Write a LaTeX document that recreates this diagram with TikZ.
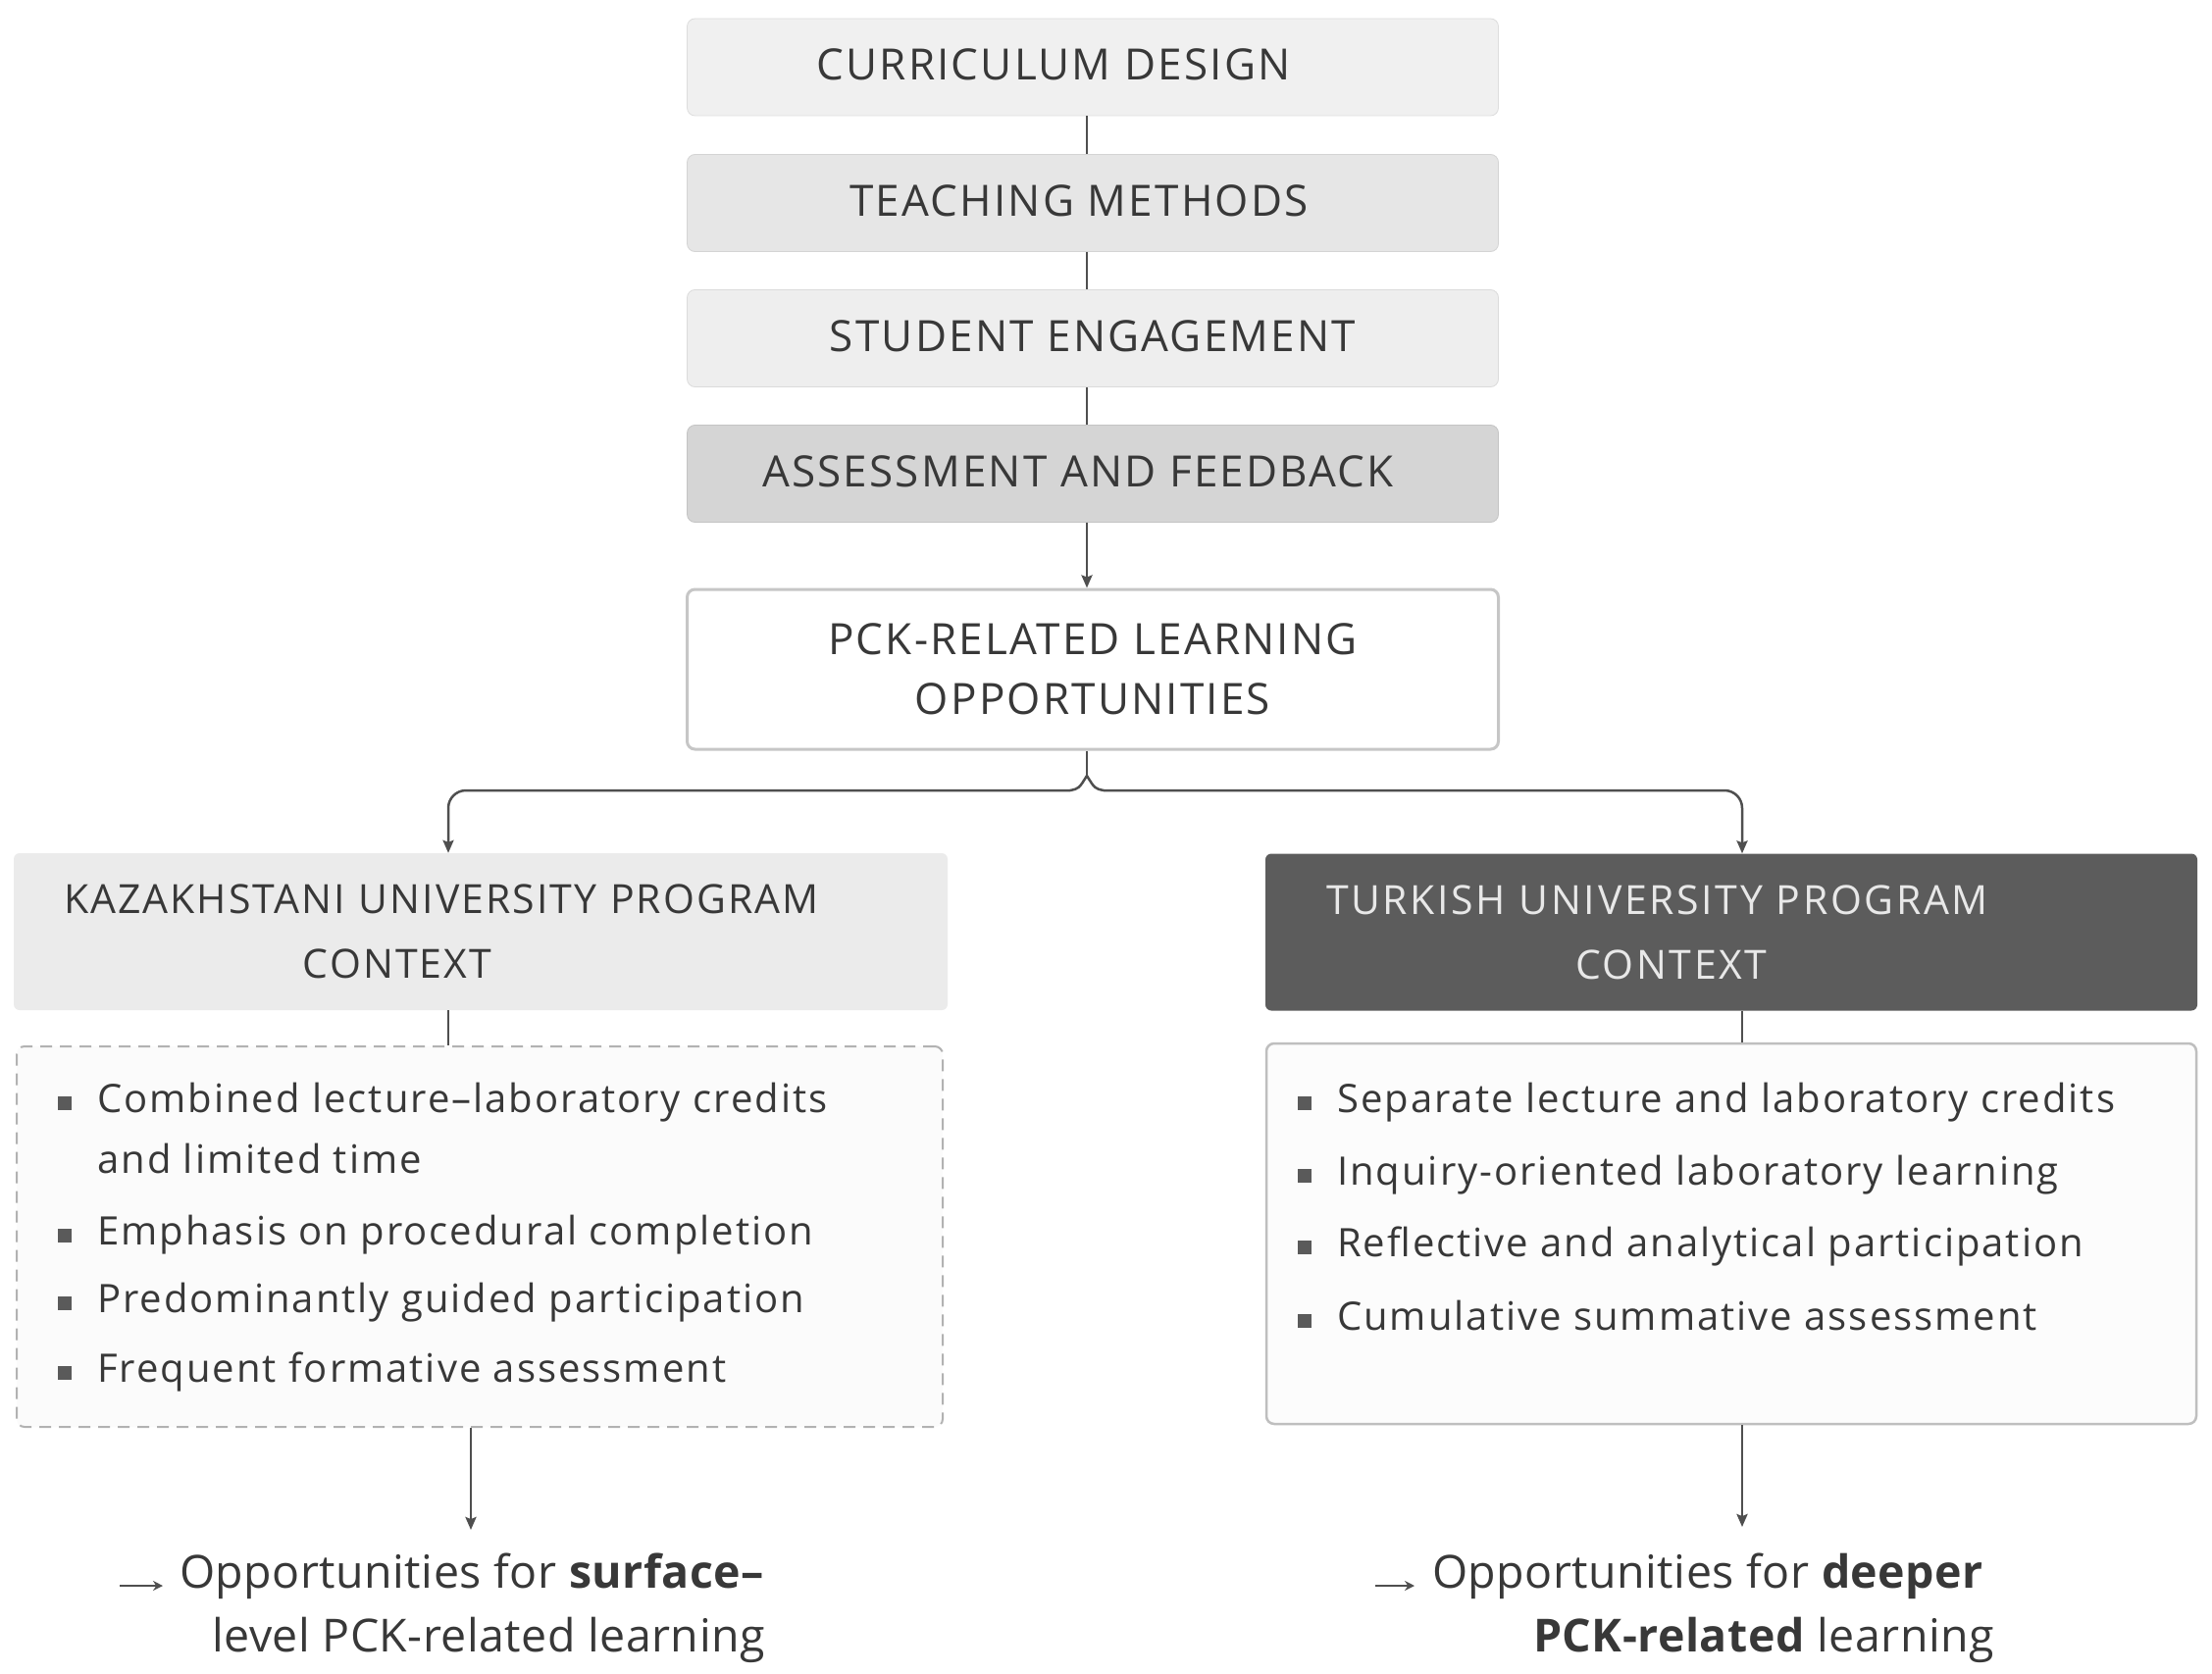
\documentclass[tikz,border=0pt]{standalone}
\usepackage{fontspec}
\setmainfont{Open Sans}
\newfontfamily\capsf[LetterSpace=5]{Open Sans}
\newfontfamily\listf[LetterSpace=5]{Open Sans}
\newfontfamily\botf[LetterSpace=1]{Open Sans}
\usetikzlibrary{arrows.meta,calc}
\definecolor{txt}{HTML}{383838}
\definecolor{conc}{HTML}{4F4F4F}
\definecolor{bulc}{HTML}{5A5A5A}
\definecolor{boxa}{HTML}{F0F0F0}
\definecolor{boxb}{HTML}{E6E6E6}
\definecolor{boxc}{HTML}{EEEEEE}
\definecolor{boxd}{HTML}{D5D5D5}
\definecolor{hdrl}{HTML}{EBEBEB}
\definecolor{hdrd}{HTML}{5C5C5C}
\definecolor{hdrt}{HTML}{E8E8E8}
\definecolor{edge}{HTML}{C6C6C6}
\newcommand\bul{\textcolor{bulc}{\rule[2pt]{14pt}{14pt}}\hspace*{26pt}}
\begin{document}
\begin{tikzpicture}[x=1pt,y=-1pt,
  topbox/.style={rounded corners=8, minimum width=827, minimum height=99, inner sep=0,
    draw=#1!92!black, line width=0.8, fill=#1, text=txt, text depth=5pt,
    font={\capsf\fontsize{44}{52}\selectfont}},
  pckbox/.style={rounded corners=8, minimum width=827, minimum height=163, inner sep=0,
    draw=edge, line width=3, fill=white, align=center, text=txt,
    font={\capsf\fontsize{44}{61}\selectfont}},
  hdrbox/.style={rounded corners=6, minimum height=160, inner ysep=0, align=left,
    font={\capsf\fontsize{41}{66}\selectfont}},
  listbox/.style={rounded corners=8, minimum width=#1, minimum height=388, inner sep=0},
  item/.style={anchor=west, inner sep=0, text height=28, text depth=0, text=txt,
    font={\listf\fontsize{40}{48}\selectfont}},
  bottxt/.style={anchor=west, inner sep=0, text height=33, text depth=0, text=txt,
    font={\botf\fontsize{46.5}{54}\selectfont}},
  conn/.style={draw=conc, line width=2.5, line join=round},
  tip/.style={-{Stealth[length=13,width=11,inset=2]}}
]
\useasboundingbox[fill=white] (0,0) rectangle (2255,1707);

% spine and drop coordinates
\coordinate (sp) at (1108,0);
\coordinate (kx) at (457,0);
\coordinate (tx) at (1776,0);

% top chain
\node[topbox=boxa] (b1) at (1114,68.5) {CURRICULUM DESIGN\hspace*{80pt}};
\node[topbox=boxb] (b2) at (1114,207) {TEACHING METHODS\hspace*{28pt}};
\node[topbox=boxc] (b3) at (1114,345) {STUDENT ENGAGEMENT};
\node[topbox=boxd] (b4) at (1114,483) {ASSESSMENT AND FEEDBACK\hspace*{30pt}};
\node[pckbox] (pck) at (1114,682.5) {PCK-RELATED LEARNING\\OPPORTUNITIES};

\draw[conn] (b1.south -| sp) -- (b2.north -| sp);
\draw[conn] (b2.south -| sp) -- (b3.north -| sp);
\draw[conn] (b3.south -| sp) -- (b4.north -| sp);
\draw[conn,tip] (b4.south -| sp) -- (pck.north -| sp);

% headers
\node[hdrbox, fill=hdrl, text=txt, inner xsep=51, text width=850] (kaz) at (490,950)
  {KAZAKHSTANI UNIVERSITY PROGRAM\\\hspace*{244pt}CONTEXT};
\node[hdrbox, fill=hdrd, text=hdrt, inner xsep=62, text width=826] (tur) at (1765,950.5)
  {\addfontfeatures{LetterSpace=6.5}TURKISH UNIVERSITY PROGRAM\\\hspace*{254pt}CONTEXT};

% branch
\coordinate (peak) at (1108,791);
\coordinate (jl) at (1091,806);
\coordinate (jr) at (1125,806);
\draw[conn] (pck.south -| sp) -- (peak);
\draw[conn] (jl) .. controls (1100,804) .. (peak) .. controls (1116,804) .. (jr);
\draw[conn,tip,rounded corners=18] (jl) -| (kx |- kaz.north);
\draw[conn,tip,rounded corners=18] (jr) -| (tx |- tur.north);

% list boxes
\node[listbox=944, fill=black!1.5, draw=black!30, dashed, dash pattern=on 12pt off 8pt, line width=2] (kl) at (489,1261) {};
\node[listbox=948, fill=black!1, draw=black!25, line width=2.5] (tl) at (1765,1258) {};

\draw[conn] (kx |- kaz.south) -- (kx |- kl.north);
\draw[conn] (tx |- tur.south) -- (tx |- tl.north);

% list items
\node[item] (k1) at (59,1120) {\bul Combined lecture–laboratory credits};
\node[item] (k1b) at (99,1182) {and limited time};
\node[item] (k2) at (59,1255) {\bul Emphasis on procedural completion};
\node[item] (k3) at (59,1324) {\bul Predominantly guided participation};
\node[item] (k4) at (59,1395) {\bul Frequent formative assessment};

\node[item] (t1) at (1323,1120) {\bul Separate lecture and laboratory credits};
\node[item] (t2) at (1323,1194) {\bul Inquiry-oriented laboratory learning};
\node[item] (t3) at (1323,1267) {\bul Reflective and analytical participation};
\node[item] (t4) at (1323,1342) {\bul Cumulative summative assessment};

% outcome arrows
\coordinate (kb) at (480,1560);
\coordinate (tb) at (1776,1557);
\draw[conn,tip] (kl.south -| kb) -- (kb);
\draw[conn,tip] (tl.south -| tb) -- (tb);

% outcomes
\node[bottxt] (lb1) at (183,1603) {Opportunities for \textbf{surface–}};
\node[bottxt] (lb2) at (216,1668) {level PCK-related learning};
\node[bottxt] (rb1) at (1460,1603) {Opportunities for \textbf{deeper}};
\node[bottxt] (rb2) at (1563,1668) {\textbf{PCK-related} learning};

\coordinate (la0) at (122,1617);
\coordinate (la1) at (166,1617);
\coordinate (ra0) at (1402,1617);
\coordinate (ra1) at (1442,1617);
\draw[conn,line width=2.6,-{Stealth[length=10,width=10]}] (la0) -- (la1);
\draw[conn,line width=2.6,-{Stealth[length=10,width=10]}] (ra0) -- (ra1);
\end{tikzpicture}
\end{document}
